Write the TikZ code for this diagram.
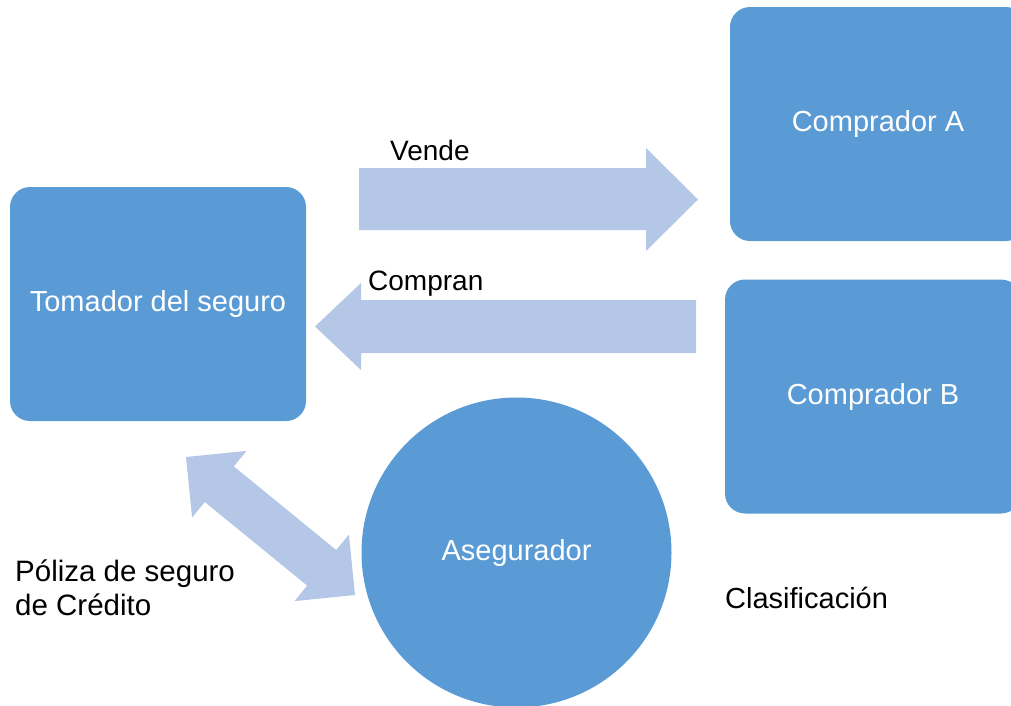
\documentclass[tikz,border=0pt]{standalone}
\usepackage{fontspec}
\setmainfont{Liberation Sans}
\definecolor{boxblue}{HTML}{5B9BD5}
\definecolor{arrowblue}{HTML}{B4C7E7}
\begin{document}
\begin{tikzpicture}[x=1pt,y=-1pt,
  boxnode/.style={rectangle, rounded corners=20pt, fill=boxblue, draw=none,
    minimum width=296pt, minimum height=234pt, inner sep=0pt,
    text=white, font=\fontsize{29}{34}\selectfont},
  circnode/.style={circle, fill=boxblue, draw=none, minimum size=310pt, inner sep=0pt,
    text=white, font=\fontsize{29}{34}\selectfont},
  blockarrow/.style={fill=arrowblue, draw=none},
  lbl/.style={anchor=base west, inner sep=0pt, text=black, font=\fontsize{28}{33}\selectfont}]
\useasboundingbox (0,0) rectangle (1011,705);
\clip (0,0) rectangle (1011,705);
% boxes
\node[boxnode] (tom) at (158,304) {Tomador del seguro};
\node[boxnode] (ca) at (878,124) {Comprador A};
\node[boxnode] (cb) at (873,396.5) {Comprador B};
\node[circnode] (ase) at (516.5,552.5) {Asegurador};
% block arrows
\fill[blockarrow] (359,168) -- (646,168) -- (646,148) -- (698,199.5) -- (646,251) -- (646,230) -- (359,230) -- cycle;
\fill[blockarrow] (696,300) -- (361,300) -- (361,283) -- (315,326.5) -- (361,370) -- (361,353) -- (696,353) -- cycle;
\fill[blockarrow] (186,457) -- (246.5,450.9) -- (233.8,466.4) -- (336.2,550.0) -- (348.9,534.5)
  -- (355,595) -- (294.5,601.1) -- (307.2,585.6) -- (204.8,502.0) -- (192.1,517.5) -- cycle;
% labels
\node[lbl] (vende) at (390,160.7) {Vende};
\node[lbl] (compran) at (368,290) {Compran};
\node[lbl, align=left, font=\fontsize{29.5}{33.3}\selectfont] (poliza) at (15,615) {Póliza de seguro\\de Crédito};
\node[lbl, font=\fontsize{29}{33}\selectfont] (clas) at (725,608) {Clasificación};
\end{tikzpicture}
\end{document}
